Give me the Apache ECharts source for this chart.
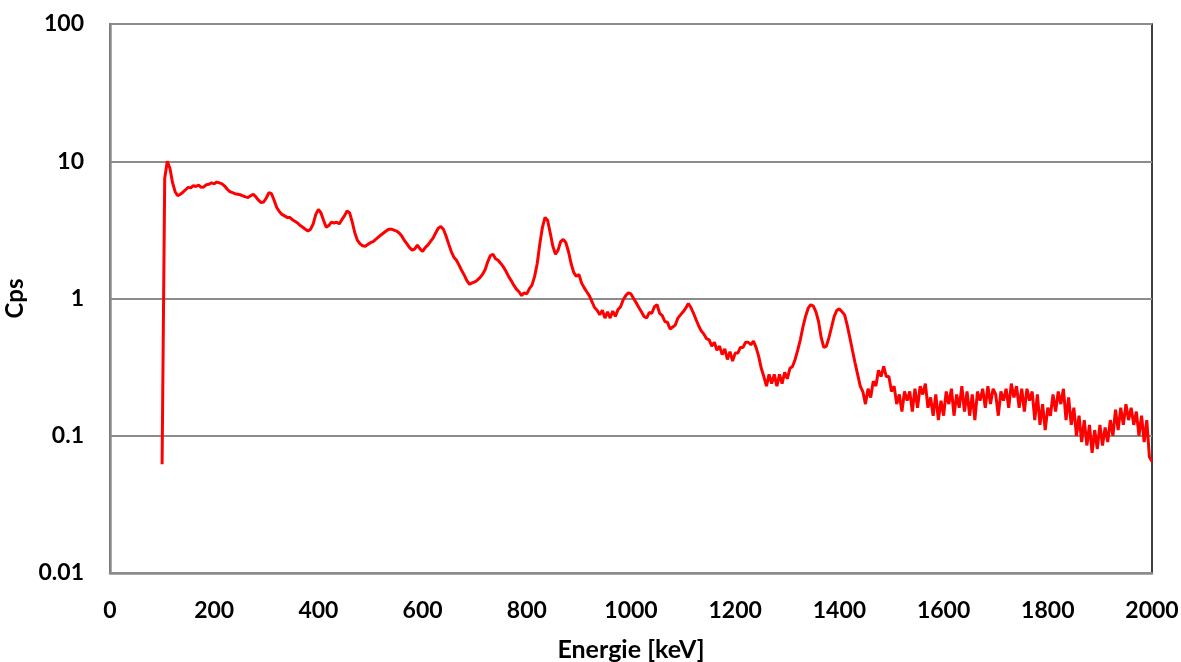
<!DOCTYPE html>
<html>
<head>
<meta charset="utf-8">
<script src="https://cdn.jsdelivr.net/npm/echarts@6/dist/echarts.min.js"></script>
<style>
  html, body { margin: 0; padding: 0; background: #fff; }
  #chart { width: 1181px; height: 662px; }
</style>
</head>
<body>
<div id="chart"></div>
<script>
// spectre : un point tous les 5 keV, de 100 a 2000 keV
var energieDebut = 100;
var energiePas = 5;
var cps = [
  0.062, 7.5, 10.0, 8.9, 7.0, 6.0, 5.6, 5.75, 5.95, 6.2,      // 100
  6.45, 6.4, 6.65, 6.55, 6.7, 6.45, 6.5, 6.75, 6.8, 6.95,     // 150
  6.85, 7.05, 6.95, 6.85, 6.6, 6.25, 6.0, 5.9, 5.8, 5.75,     // 200
  5.7, 5.6, 5.5, 5.45, 5.6, 5.75, 5.5, 5.2, 5.0, 5.05,        // 250
  5.4, 5.9, 5.8, 5.2, 4.6, 4.3, 4.1, 4.0, 3.9, 3.9,           // 300
  3.75, 3.65, 3.55, 3.4, 3.3, 3.2, 3.1, 3.2, 3.5, 4.1,        // 350
  4.45, 4.2, 3.7, 3.3, 3.4, 3.6, 3.55, 3.6, 3.5, 3.75,        // 400
  4.0, 4.35, 4.2, 3.6, 3.0, 2.65, 2.5, 2.42, 2.4, 2.48,       // 450
  2.55, 2.6, 2.7, 2.8, 2.9, 3.0, 3.1, 3.2, 3.2, 3.15,         // 500
  3.1, 3.0, 2.85, 2.65, 2.5, 2.35, 2.25, 2.3, 2.45, 2.3,      // 550
  2.2, 2.35, 2.45, 2.6, 2.75, 3.0, 3.25, 3.35, 3.2, 2.85,     // 600
  2.5, 2.2, 2.0, 1.9, 1.75, 1.6, 1.48, 1.35, 1.27, 1.3,       // 650
  1.32, 1.36, 1.42, 1.5, 1.62, 1.85, 2.05, 2.1, 1.95, 1.9,    // 700
  1.8, 1.7, 1.58, 1.45, 1.35, 1.25, 1.17, 1.12, 1.05, 1.1,    // 750
  1.08, 1.18, 1.25, 1.45, 1.8, 2.5, 3.3, 3.9, 3.7, 3.0,       // 800
  2.4, 2.1, 2.25, 2.6, 2.7, 2.55, 2.2, 1.8, 1.55, 1.45,       // 850
  1.5, 1.3, 1.2, 1.12, 1.05, 0.95, 0.86, 0.82, 0.76, 0.82,    // 900
  0.72, 0.8, 0.72, 0.81, 0.74, 0.83, 0.87, 0.98, 1.05, 1.1,   // 950
  1.08, 1.0, 0.93, 0.86, 0.8, 0.74, 0.72, 0.79, 0.78, 0.87,   // 1000
  0.9, 0.78, 0.75, 0.68, 0.67, 0.6, 0.62, 0.64, 0.72, 0.76,   // 1050
  0.8, 0.85, 0.92, 0.86, 0.78, 0.7, 0.63, 0.58, 0.55, 0.51,   // 1100
  0.5, 0.45, 0.48, 0.42, 0.45, 0.39, 0.43, 0.36, 0.41, 0.35,  // 1150
  0.4, 0.4, 0.44, 0.44, 0.48, 0.48, 0.46, 0.49, 0.44, 0.38,   // 1200
  0.31, 0.27, 0.23, 0.28, 0.24, 0.28, 0.23, 0.28, 0.24, 0.29, // 1250
  0.26, 0.31, 0.32, 0.36, 0.42, 0.5, 0.62, 0.74, 0.85, 0.9,   // 1300
  0.88, 0.8, 0.68, 0.52, 0.44, 0.45, 0.52, 0.62, 0.74, 0.82,  // 1350
  0.84, 0.8, 0.76, 0.64, 0.52, 0.42, 0.34, 0.28, 0.23, 0.21,  // 1400
  0.17, 0.22, 0.19, 0.25, 0.23, 0.3, 0.27, 0.32, 0.27, 0.27,  // 1450
  0.21, 0.23, 0.17, 0.2, 0.15, 0.21, 0.18, 0.21, 0.15, 0.22,  // 1500
  0.16, 0.23, 0.2, 0.24, 0.16, 0.19, 0.14, 0.2, 0.13, 0.18,   // 1550
  0.14, 0.21, 0.17, 0.22, 0.14, 0.2, 0.16, 0.23, 0.15, 0.21,  // 1600
  0.14, 0.2, 0.13, 0.21, 0.18, 0.22, 0.16, 0.23, 0.17, 0.22,  // 1650
  0.2, 0.14, 0.21, 0.18, 0.22, 0.16, 0.24, 0.19, 0.23, 0.16,  // 1700
  0.22, 0.15, 0.22, 0.18, 0.21, 0.13, 0.2, 0.12, 0.17, 0.11,  // 1750
  0.16, 0.14, 0.2, 0.15, 0.21, 0.17, 0.22, 0.13, 0.19, 0.12,  // 1800
  0.16, 0.1, 0.14, 0.09, 0.13, 0.085, 0.12, 0.075, 0.11, 0.08,// 1850
  0.12, 0.085, 0.115, 0.09, 0.13, 0.1, 0.155, 0.11, 0.16, 0.12,// 1900
  0.17, 0.13, 0.16, 0.12, 0.15, 0.1, 0.14, 0.09, 0.13, 0.07,  // 1950
  0.065                                                        // 2000
];
var yTicks = ['0.01', '0.1', '1', '10', '100'];

var points = cps.map(function (v, i) {
    return [energieDebut + i * energiePas, v];
});

var police = 'Lato, "Open Sans", sans-serif';
var myChart = echarts.init(document.getElementById('chart'));
option = {
    animation: false,
    backgroundColor: '#fff',
    grid: {
        left: 110, right: 29, top: 24, bottom: 89,
        outerBoundsMode: 'none',
        containLabel: false,
        show: true, borderColor: '#000', borderWidth: 1.5,
        backgroundColor: 'transparent'
    },
    xAxis: {
        type: 'value',
        min: 0, max: 2000, interval: 200,
        name: 'Energie [keV]',
        nameLocation: 'middle',
        nameGap: 64,
        nameTextStyle: { fontFamily: police, fontWeight: 'bold', fontSize: 25, color: '#000' },
        axisLine: { lineStyle: { color: '#8c8c8c', width: 2.5 } },
        axisTick: { show: false },
        splitLine: { show: false },
        axisLabel: {
            margin: 26, fontFamily: police, fontWeight: 'bold', fontSize: 23, color: '#000',
            formatter: function (v) { return String(v); }
        }
    },
    yAxis: {
        type: 'log',
        logBase: 10,
        min: 0.01, max: 100,
        name: 'Cps',
        nameLocation: 'middle',
        nameGap: 74,
        nameRotate: 90,
        nameTextStyle: { fontFamily: police, fontWeight: 'bold', fontSize: 24, color: '#000' },
        axisLine: { show: true, lineStyle: { color: '#8c8c8c', width: 2.5 } },
        axisTick: { show: false },
        splitLine: { show: true, lineStyle: { color: '#8c8c8c', width: 2 } },
        axisLabel: {
            margin: 26, fontFamily: police, fontWeight: 'bold', fontSize: 23, color: '#000',
            formatter: function (v) {
                var k = Math.round(Math.log10(v)) + 2;
                return yTicks[k] !== undefined ? yTicks[k] : '';
            }
        }
    },
    series: [{
        type: 'line',
        data: points,
        showSymbol: false,
        smooth: false,
        lineStyle: { color: '#ff0000', width: 3 },
        itemStyle: { color: '#ff0000' },
        z: 3
    }]
};
myChart.setOption(option);
</script>
</body>
</html>
